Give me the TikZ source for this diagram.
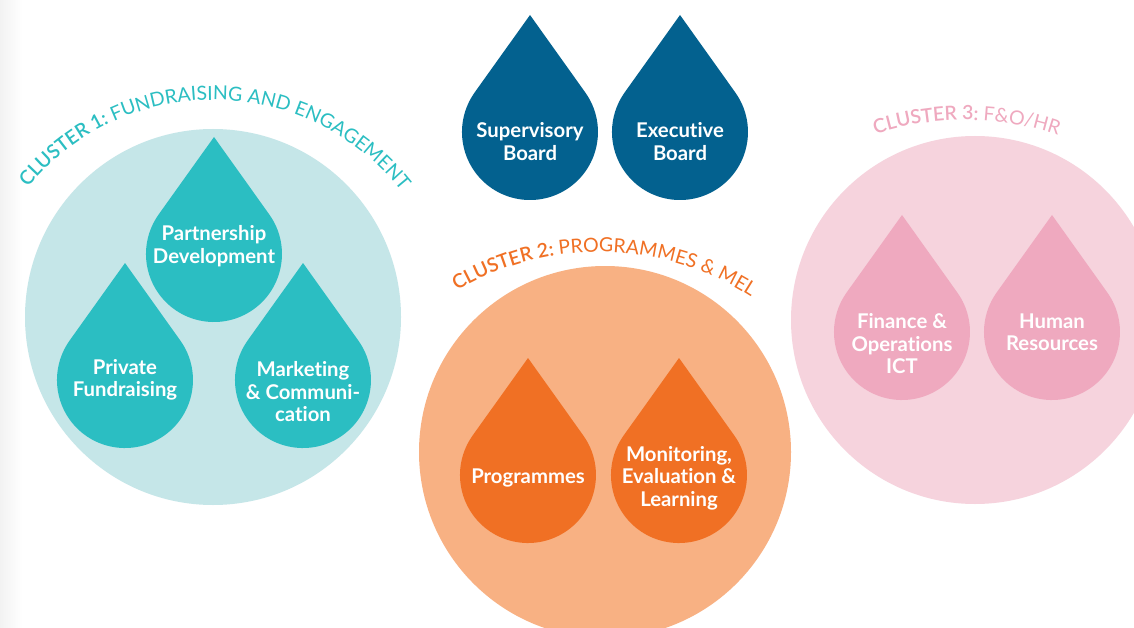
\documentclass[tikz,border=0pt]{standalone}
\usepackage{fontspec}
\setmainfont{Lato}[Ligatures=NoCommon]
\newfontfamily\semifont{Lato Semibold}
\usetikzlibrary{decorations.text}

\definecolor{tealdrop}{HTML}{2BBEC2}
\definecolor{tealback}{HTML}{C5E6E8}
\definecolor{boardblue}{HTML}{03618F}
\definecolor{orangedrop}{HTML}{F07024}
\definecolor{orangeback}{HTML}{F8B183}
\definecolor{pinkdrop}{HTML}{EFA9BF}
\definecolor{pinkback}{HTML}{F6D3DD}

% drop: [text shift]{name}{centre}{colour}{label}
\newcommand\drop[5][0]{%
  \fill[#4] (#3) ++(0,117) -- ++(55.3,-77.5)
    arc[start angle=35.53, end angle=-215.53, radius=68] -- cycle;
  \node[droplabel] (#2) at ([yshift=#1]#3) {#5};}
\def\clfont{\fontsize{19.5}{19.5}\selectfont}

\begin{document}
\begin{tikzpicture}[x=1pt, y=1pt,
    droplabel/.style={text=white, align=center, inner sep=0,
      font=\bfseries\fontsize{20.3}{22.5}\selectfont},
    cluster/.style={circle, inner sep=0, minimum size=#1}]
    \useasboundingbox (0,0) rectangle (1134,-628);
    \fill[white] (0,0) rectangle (1134,-628);
    \shade[left color=black!5, right color=white] (0,0) rectangle (22,-628);

    % the three clusters
    \node[cluster=376pt, fill=tealback] (clone) at (213,-317) {};
    \node[cluster=372pt, fill=orangeback] (cltwo) at (605,-452) {};
    \node[cluster=368pt, fill=pinkback] (clthree) at (975,-320) {};

    % titles along the arcs
    \path[decorate, decoration={text along path, text color=tealdrop,
        text={|\semifont\clfont|CLUSTER 1: |\clfont|FUNDRAISING AND ENGAGEMENT}}]
      (213,-340) ++(140.5:240) arc[start angle=140.5, end angle=15, radius=240];
    \path[decorate, decoration={text along path, text color=orangedrop,
        text={|\semifont\clfont|CLUSTER 2: |\clfont|PROGRAMMES {\&} MEL}}]
      (599,-532) ++(120.5:280) arc[start angle=120.5, end angle=40, radius=280];
    \path[decorate, decoration={text along path, text color=pinkdrop,
        text={|\semifont\clfont|CLUSTER 3: |\clfont|F{\&}O/HR}}]
      (965,-410) ++(108:290) arc[start angle=108, end angle=55, radius=290];

    % boards
    \drop[-9.5]{supboard}{530,-132}{boardblue}{Supervisory\\Board}
    \drop[-9.5]{exboard}{680,-132}{boardblue}{Executive\\Board}

    % cluster 1
    \drop[8]{partner}{214,-254}{tealdrop}{Partnership\\Development}
    \drop{private}{125,-380}{tealdrop}{Private\\Fundraising}
    \drop[-12]{marcom}{303,-380}{tealdrop}{Marketing\\\& Communi-\\cation}

    % cluster 2
    \drop[-3]{progs}{528,-475}{orangedrop}{Programmes}
    \drop[-3]{mel}{679,-475}{orangedrop}{Monitoring,\\Evaluation \&\\Learning}

    % cluster 3
    \drop[-12]{finops}{902,-332}{pinkdrop}{Finance \&\\Operations\\ICT}
    \drop{hr}{1052,-332}{pinkdrop}{Human\\Resources}
\end{tikzpicture}
\end{document}
